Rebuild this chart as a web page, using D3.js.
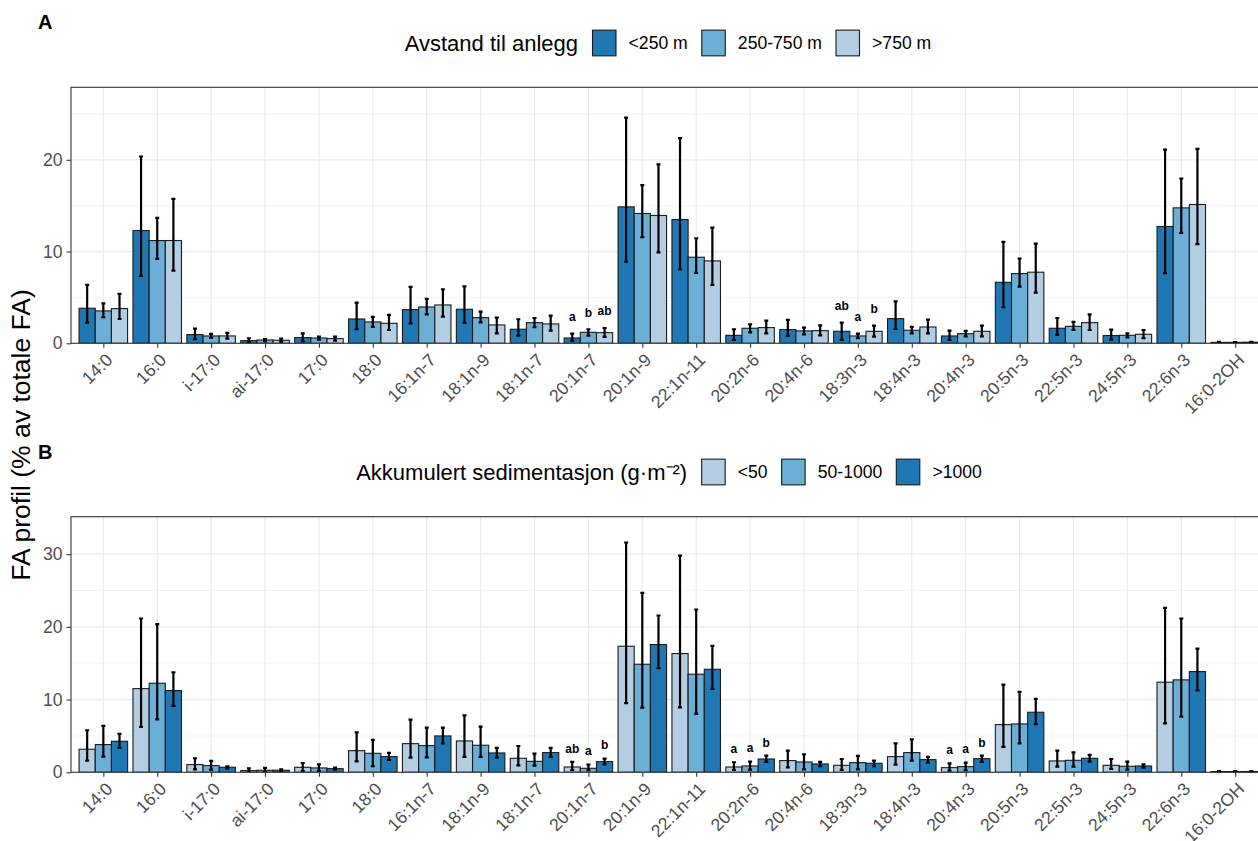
<!DOCTYPE html>
<html>
<head>
<meta charset="utf-8">
<script src="https://cdn.jsdelivr.net/npm/d3@7/dist/d3.min.js"></script>
<style>
  html, body { margin: 0; padding: 0; background: #fff; }
  svg { display: block; font-family: "Liberation Sans", Arial, Helvetica, sans-serif; }
</style>
</head>
<body>
<svg id="chart" width="1258" height="841"></svg>
<script>
// Fatty acids on the x axis
const categories = ['14:0','16:0','i-17:0','ai-17:0','17:0','18:0','16:1n-7','18:1n-9','18:1n-7','20:1n-7',
  '20:1n-9','22:1n-11','20:2n-6','20:4n-6','18:3n-3','18:4n-3','20:4n-3','20:5n-3','22:5n-3','24:5n-3','22:6n-3','16:0-2OH'];

// Panel A: distance to facility
const distanceGroups = ['<250 m', '250-750 m', '>750 m'];
const nearMean = [3.82, 12.29, 0.95, 0.29, 0.62, 2.65, 3.67, 3.71, 1.53, 0.58, 14.87, 13.49, 0.87, 1.49, 1.31, 2.69, 0.80, 6.65, 1.64, 0.84, 12.73, 0.10];
const nearLow  = [2.25, 7.35, 0.44, 0.07, 0.22, 1.53, 2.18, 2.25, 0.84, 0.25, 8.90, 8.07, 0.36, 0.80, 0.36, 1.56, 0.36, 3.93, 0.91, 0.40, 7.64, 0.05];
const nearHigh = [6.36, 20.36, 1.60, 0.55, 1.09, 4.44, 6.15, 6.20, 2.62, 1.05, 24.60, 22.36, 1.53, 2.55, 2.25, 4.58, 1.38, 11.05, 2.76, 1.49, 21.10, 0.16];
const midMean  = [3.53, 11.20, 0.80, 0.36, 0.58, 2.33, 3.96, 2.80, 2.25, 1.20, 14.15, 9.38, 1.64, 1.35, 0.80, 1.42, 1.05, 7.60, 1.85, 0.87, 14.76, 0.10];
const midLow   = [2.84, 9.20, 0.58, 0.22, 0.40, 1.78, 3.16, 2.29, 1.75, 0.84, 11.56, 7.67, 1.20, 0.98, 0.55, 1.09, 0.76, 6.18, 1.45, 0.65, 12.04, 0.07];
const midHigh  = [4.36, 13.67, 1.02, 0.47, 0.73, 2.87, 4.84, 3.45, 2.76, 1.53, 17.24, 11.45, 2.07, 1.71, 1.05, 1.78, 1.35, 9.24, 2.33, 1.09, 17.96, 0.13];
const farMean  = [3.78, 11.20, 0.80, 0.33, 0.51, 2.18, 4.18, 2.00, 2.11, 1.16, 13.93, 8.98, 1.71, 1.38, 1.31, 1.78, 1.31, 7.75, 2.25, 0.98, 15.13, 0.12];
const farLow   = [2.65, 7.93, 0.50, 0.15, 0.29, 1.45, 2.91, 1.09, 1.38, 0.69, 9.90, 6.36, 1.09, 0.87, 0.73, 1.09, 0.76, 5.53, 1.45, 0.55, 10.80, 0.08];
const farHigh  = [5.38, 15.75, 1.13, 0.51, 0.73, 3.09, 5.89, 2.80, 3.02, 1.67, 19.50, 12.60, 2.47, 1.96, 1.93, 2.58, 1.93, 10.87, 3.16, 1.45, 21.20, 0.17];
const distanceLetters = [['20:1n-7', 0, 'a'], ['20:1n-7', 1, 'b'], ['20:1n-7', 2, 'ab'],
                         ['18:3n-3', 0, 'ab'], ['18:3n-3', 1, 'a'], ['18:3n-3', 2, 'b']];
const distanceTicks = [0, 10, 20];

// Panel B: accumulated sedimentation
const sedimentGroups = ['<50', '50-1000', '>1000'];
const lowSedMean  = [3.17, 11.51, 1.06, 0.23, 0.69, 2.98, 3.94, 4.31, 1.93, 0.73, 17.34, 16.33, 0.73, 1.61, 0.96, 2.16, 0.64, 6.56, 1.56, 0.96, 12.39, 0.10];
const lowSedLow   = [1.60, 6.24, 0.41, 0.00, 0.18, 1.51, 2.02, 2.11, 0.96, 0.28, 9.50, 8.94, 0.32, 0.69, 0.32, 1.06, 0.23, 3.49, 0.78, 0.46, 6.74, 0.05];
const lowSedHigh  = [5.78, 21.15, 1.93, 0.55, 1.28, 5.50, 7.25, 7.84, 3.62, 1.42, 31.60, 29.80, 1.38, 2.98, 1.83, 3.99, 1.24, 12.06, 2.98, 1.83, 22.61, 0.15];
const medSedMean  = [3.81, 12.25, 0.92, 0.28, 0.60, 2.61, 3.67, 3.72, 1.51, 0.55, 14.86, 13.49, 0.87, 1.42, 1.33, 2.71, 0.78, 6.65, 1.65, 0.83, 12.71, 0.10];
const medSedLow   = [2.16, 7.29, 0.37, 0.05, 0.18, 0.83, 2.06, 2.11, 0.92, 0.28, 8.90, 8.03, 0.37, 0.41, 0.41, 1.61, 0.28, 3.99, 0.78, 0.37, 7.66, 0.05];
const medSedHigh  = [6.38, 20.37, 1.56, 0.60, 1.10, 4.45, 6.15, 6.28, 2.57, 1.06, 24.68, 22.39, 1.47, 2.48, 2.25, 4.54, 1.33, 11.06, 2.75, 1.47, 21.15, 0.15];
const highSedMean = [4.27, 11.24, 0.69, 0.28, 0.50, 2.16, 5.00, 2.66, 2.71, 1.47, 17.57, 14.17, 1.83, 1.15, 1.24, 1.74, 1.88, 8.26, 1.93, 0.87, 13.85, 0.11];
const highSedLow  = [3.35, 9.13, 0.50, 0.14, 0.37, 1.70, 3.99, 2.02, 2.11, 1.10, 14.31, 11.47, 1.42, 0.83, 0.83, 1.33, 1.42, 6.61, 1.47, 0.64, 11.28, 0.08];
const highSedHigh = [5.28, 13.76, 0.83, 0.41, 0.64, 2.66, 6.15, 3.35, 3.35, 1.88, 21.56, 17.39, 2.29, 1.42, 1.60, 2.11, 2.29, 10.09, 2.39, 1.10, 17.02, 0.14];
const sedimentLetters = [['20:1n-7', 0, 'ab'], ['20:1n-7', 1, 'a'], ['20:1n-7', 2, 'b'],
                         ['20:2n-6', 0, 'a'], ['20:2n-6', 1, 'a'], ['20:2n-6', 2, 'b'],
                         ['20:4n-3', 0, 'a'], ['20:4n-3', 1, 'a'], ['20:4n-3', 2, 'b']];
const sedimentTicks = [0, 10, 20, 30];

const dark = '#1f78b4', medium = '#6baed6', light = '#b3cde3';

const svg = d3.select('#chart');
const tickFont = 17.6, legendTitleFont = 22, legendLabelFont = 17.6;

function drawPanel(p) {
  const g = svg.append('g');
  const clipId = 'clip-' + p.id;
  svg.append('defs').append('clipPath').attr('id', clipId)
    .append('rect').attr('x', p.left).attr('y', p.top).attr('width', p.right - p.left).attr('height', p.bottom - p.top);

  const x = d3.scalePoint().domain(categories).range([p.left, p.right]).padding(0.6);
  const step = x.step();
  const sub = d3.scaleBand().domain([0, 1, 2]).range([-0.45 * step, 0.45 * step]);
  const y = d3.scaleLinear().domain([0, p.ymax]).range([p.bottom, p.top]);

  const grid = g.append('g').attr('clip-path', `url(#${clipId})`);
  // minor grid
  const minor = d3.range(5, p.ymax, 10);
  grid.selectAll('line.minor').data(minor).join('line')
    .attr('x1', p.left).attr('x2', p.right).attr('y1', d => y(d)).attr('y2', d => y(d))
    .attr('stroke', '#ebebeb').attr('stroke-width', 0.6);
  grid.selectAll('line.majorY').data(p.ticks).join('line')
    .attr('x1', p.left).attr('x2', p.right).attr('y1', d => y(d)).attr('y2', d => y(d))
    .attr('stroke', '#ebebeb').attr('stroke-width', 1.2);
  grid.selectAll('line.majorX').data(categories).join('line')
    .attr('x1', d => x(d)).attr('x2', d => x(d)).attr('y1', p.top).attr('y2', p.bottom)
    .attr('stroke', '#ebebeb').attr('stroke-width', 1.2);

  // bars + error bars
  const rows = [];
  p.series.forEach((s, gi) => {
    categories.forEach((c, ci) => {
      rows.push({ cat: c, gi, mean: s.mean[ci], lo: s.low[ci], hi: s.high[ci], color: s.color });
    });
  });
  const marks = g.append('g').attr('clip-path', `url(#${clipId})`);
  marks.selectAll('rect.bar').data(rows).join('rect')
    .attr('x', d => x(d.cat) + sub(d.gi))
    .attr('width', sub.bandwidth())
    .attr('y', d => y(d.mean))
    .attr('height', d => y(0) - y(d.mean))
    .attr('fill', d => d.color)
    .attr('stroke', '#1a1a1a').attr('stroke-width', 1.1);
  const eb = marks.selectAll('g.err').data(rows).join('g');
  const cx = d => x(d.cat) + sub(d.gi) + sub.bandwidth() / 2;
  eb.append('line')
    .attr('x1', cx).attr('x2', cx).attr('y1', d => y(d.lo)).attr('y2', d => y(d.hi))
    .attr('stroke', '#000').attr('stroke-width', 2.2);
  ['lo', 'hi'].forEach(k => {
    eb.append('line')
      .attr('x1', d => cx(d) - 2).attr('x2', d => cx(d) + 2)
      .attr('y1', d => y(d[k])).attr('y2', d => y(d[k]))
      .attr('stroke', '#000').attr('stroke-width', 2.2);
  });

  // significance letters
  g.selectAll('text.sig').data(p.letters).join('text')
    .attr('x', d => x(d[0]) + sub(d[1]) + sub.bandwidth() / 2)
    .attr('y', d => {
      const ci = categories.indexOf(d[0]);
      return y(p.series[d[1]].high[ci] + 1.85);
    })
    .attr('dy', '0.36em')
    .attr('text-anchor', 'middle')
    .attr('font-size', 12).attr('font-weight', 'bold').attr('fill', '#000')
    .text(d => d[2]);

  // panel border
  g.append('rect').attr('x', p.left).attr('y', p.top)
    .attr('width', p.right - p.left).attr('height', p.bottom - p.top)
    .attr('fill', 'none').attr('stroke', '#333').attr('stroke-width', 1.1);

  // y axis
  const yAxis = g.append('g').attr('transform', `translate(${p.left},0)`)
    .call(d3.axisLeft(y).tickValues(p.ticks).tickSize(4.5).tickPadding(4).tickFormat(d3.format('d')));
  yAxis.select('.domain').remove();
  yAxis.selectAll('line').attr('stroke', '#333').attr('stroke-width', 1.1);
  yAxis.selectAll('text').attr('font-size', tickFont).attr('fill', '#4d4d4d')
    .attr('font-family', '"Liberation Sans", Arial, sans-serif');

  // x axis
  const xAxis = g.append('g').attr('transform', `translate(0,${p.bottom})`)
    .call(d3.axisBottom(x).tickSize(4.5).tickFormat(''));
  xAxis.select('.domain').remove();
  xAxis.selectAll('line').attr('stroke', '#333').attr('stroke-width', 1.1);
  g.selectAll('text.xlab').data(categories).join('text')
    .attr('transform', d => `translate(${x(d) + 1.5},${p.bottom + 9}) rotate(-45)`)
    .attr('text-anchor', 'end')
    .attr('dy', '0.7em')
    .attr('font-size', tickFont).attr('fill', '#4d4d4d')
    .text(d => d);
}

function drawLegend(title, labels, colors, cx, cy) {
  const g = svg.append('g');
  const keyW = 23.5, keyH = 25.7;
  const t = g.append('text').attr('y', cy).attr('dy', '0.35em')
    .attr('font-size', legendTitleFont).attr('fill', '#000').text(title);
  let xpos = t.node().getComputedTextLength() + 14.5;
  labels.forEach((lab, i) => {
    g.append('rect').attr('x', xpos).attr('y', cy - keyH / 2)
      .attr('width', keyW).attr('height', keyH)
      .attr('fill', colors[i]).attr('stroke', '#1a1a1a').attr('stroke-width', 1.1);
    xpos += keyW + 12.6;
    const lt = g.append('text').attr('x', xpos).attr('y', cy).attr('dy', '0.35em')
      .attr('font-size', legendLabelFont).attr('fill', '#000').text(lab);
    xpos += lt.node().getComputedTextLength();
    if (i < labels.length - 1) xpos += 14;
  });
  g.attr('transform', `translate(${cx - xpos / 2},0)`);
}

drawPanel({
  id: 'a', left: 71, right: 1267.5, top: 87.3, bottom: 343.3, ymax: 27.9, ticks: distanceTicks,
  series: [
    { mean: nearMean, low: nearLow, high: nearHigh, color: dark },
    { mean: midMean, low: midLow, high: midHigh, color: medium },
    { mean: farMean, low: farLow, high: farHigh, color: light }
  ],
  letters: distanceLetters
});
drawPanel({
  id: 'b', left: 71, right: 1267.5, top: 516.7, bottom: 772.3, ymax: 35.15, ticks: sedimentTicks,
  series: [
    { mean: lowSedMean, low: lowSedLow, high: lowSedHigh, color: light },
    { mean: medSedMean, low: medSedLow, high: medSedHigh, color: medium },
    { mean: highSedMean, low: highSedLow, high: highSedHigh, color: dark }
  ],
  letters: sedimentLetters
});

drawLegend('Avstand til anlegg', distanceGroups, [dark, medium, light], 668, 43);
drawLegend('Akkumulert sedimentasjon (g\u00b7m\u207b\u00b2)', sedimentGroups, [light, medium, dark], 669, 472);

// shared y-axis title
svg.append('text')
  .attr('transform', 'translate(30,435) rotate(-90)')
  .attr('text-anchor', 'middle')
  .attr('font-size', 26.5).attr('fill', '#000')
  .text('FA profil (% av totale FA)');

// panel tags
svg.append('text').attr('x', 38).attr('y', 29).attr('font-size', 20).attr('font-weight', 'bold').text('A');
svg.append('text').attr('x', 38).attr('y', 459).attr('font-size', 20).attr('font-weight', 'bold').text('B');
</script>
</body>
</html>
